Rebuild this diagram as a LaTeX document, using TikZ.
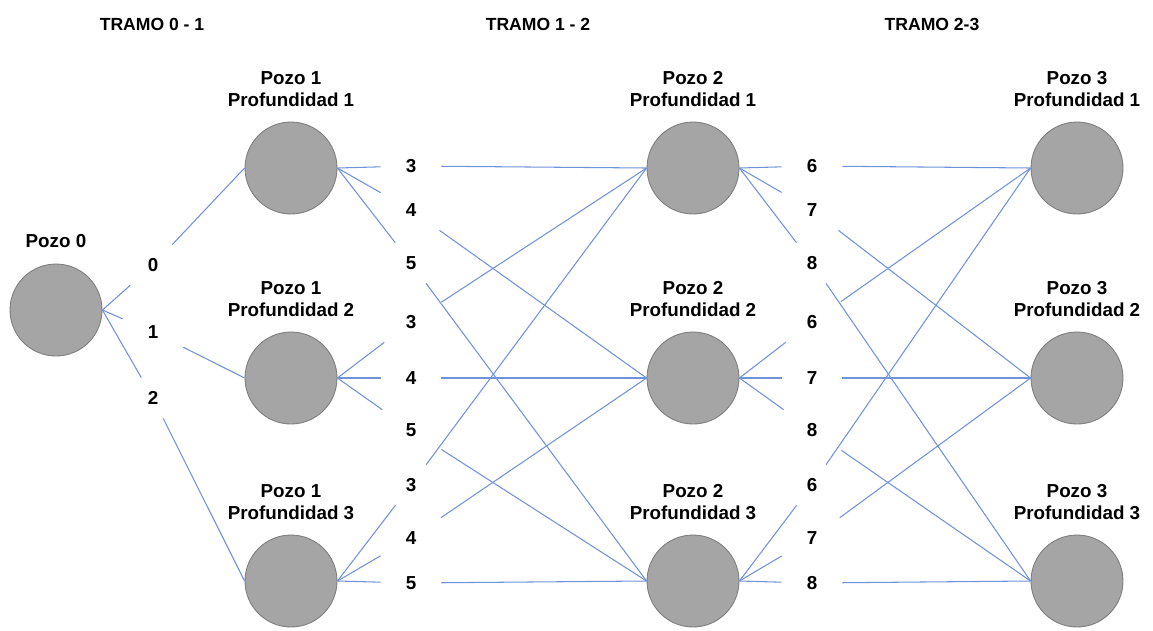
\documentclass[tikz,border=0pt]{standalone}
\usepackage{fontspec}
\setmainfont{Liberation Sans}
\usepackage{tikz}
\usetikzlibrary{positioning}
\definecolor{pozogris}{RGB}{165,165,165}
\definecolor{bordegris}{RGB}{125,125,125}
\definecolor{enlaceazul}{RGB}{112,146,218}
\tikzset{pozo/.style={circle,fill=pozogris,draw=bordegris,line width=0.5pt,minimum size=1.84cm,inner sep=0pt}}
\tikzset{rotulo/.style={font=\fontsize{10.7}{12.6}\selectfont\bfseries,align=center}}
\tikzset{prof/.style={rectangle,font=\fontsize{10.7}{12.6}\selectfont\bfseries,minimum width=1.2cm,minimum height=0.8cm,inner sep=0pt}}
\tikzset{tramo/.style={font=\fontsize{10}{12}\selectfont\bfseries}}
\tikzset{enlace/.style={draw=enlaceazul,line width=0.6pt}}

\begin{document}
\begin{tikzpicture}[x=0.02cm,y=-0.02cm,node distance=0.18cm]
\useasboundingbox (0,0) rectangle (1153,630);

% tramos
\node[tramo] (t01) at (152,24) {TRAMO 0 - 1};
\node[tramo] (t12) at (538,24) {TRAMO 1 - 2};
\node[tramo] (t23) at (932,24) {TRAMO 2-3};

% pozos
\node[pozo] (p0) at (56,310) {};
\node[rotulo, above=0.2cm of p0] {Pozo 0};
\foreach \k/\x in {1/291,2/693,3/1077} {
  \foreach \i/\y in {1/168,2/378,3/581} {
    \node[pozo] (p\k\i) at (\x,\y) {};
    \node[rotulo, above=of p\k\i] {Pozo \k\\Profundidad \i};
  }
}

% profundidades de cada tramo
\node[prof] (c0) at (153,265) {0};
\node[prof] (c1) at (153,332) {1};
\node[prof] (c2) at (153,398) {2};
\foreach \i/\ya/\yb/\yc in {1/166/210/263, 2/322/378/430, 3/485/538/583} {
  \node[prof] (a\i1) at (411,\ya) {3};
  \node[prof] (a\i2) at (411,\yb) {4};
  \node[prof] (a\i3) at (411,\yc) {5};
  \node[prof] (b\i1) at (812,\ya) {6};
  \node[prof] (b\i2) at (812,\yb) {7};
  \node[prof] (b\i3) at (812,\yc) {8};
}

% enlaces
\draw[enlace] (p0.east) -- (c0) -- (p11.west);
\draw[enlace] (p0.east) -- (c1) -- (p12.west);
\draw[enlace] (p0.east) -- (c2) -- (p13.west);
\foreach \i in {1,2,3} {
  \foreach \j in {1,2,3} {
    \draw[enlace] (p1\i.east) -- (a\i\j) -- (p2\j.west);
    \draw[enlace] (p2\i.east) -- (b\i\j) -- (p3\j.west);
  }
}
\end{tikzpicture}
\end{document}
